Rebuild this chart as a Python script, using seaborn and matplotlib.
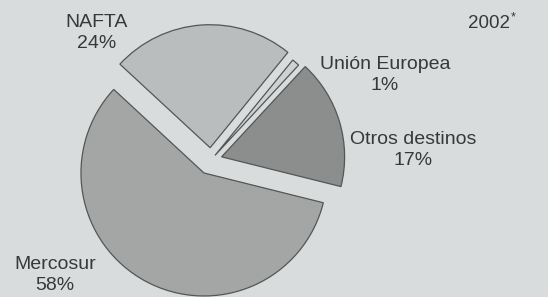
import numpy as np
import matplotlib
matplotlib.use("Agg")
import matplotlib.pyplot as plt
import seaborn as sns

# ---- data ----
categories = ["Mercosur", "NAFTA", "Unión Europea", "Otros destinos"]
values = [58, 24, 1, 17]
pct_labels = ["58%", "24%", "1%", "17%"]
year_label = "2002"

sns.set_theme(style="white")
plt.rcParams["font.family"] = ["Liberation Sans", "DejaVu Sans"]

W, H = 548, 297
bg = "#d9dcdc"
fig = plt.figure(figsize=(W / 100, H / 100), dpi=100, facecolor=bg)
ax = fig.add_axes([0, 0, 1, 1])
ax.set_facecolor(bg)

colors = ["#a4a6a6", "#babdbe", "#cfd2d2", "#8c8e8e"]
radius = 123
explode_frac = [0.12, 0.10, 0.05, 0.09]
explode = [e * radius for e in explode_frac]  # matplotlib explode is in data units

cx, cy = 211, H - 160
wedges, _ = ax.pie(values, colors=colors, explode=explode, startangle=-14,
                   counterclock=False, center=(cx, cy), radius=radius,
                   wedgeprops=dict(edgecolor="#555555", linewidth=0.9),
                   frame=True)
ax.set_xlim(0, W)
ax.set_ylim(0, H)
ax.set_aspect("equal")
ax.axis("off")

# label anchor points (pixels, y measured from top)
label_pos = [(55, 275), (97, 33), (385, 75), (413, 150)]
txt_color = "#383838"
for cat, pct, (x, y) in zip(categories, pct_labels, label_pos):
    ax.text(x, H - y, f"{cat}\n{pct}", ha="center", va="center",
            fontsize=14, color=txt_color, linespacing=1.3)

ax.text(510, H - 23, year_label, ha="right", va="center", fontsize=13.5,
        color=txt_color)
ax.text(511, H - 17, "*", ha="left", va="center", fontsize=9,
        color=txt_color)

fig.savefig("out.png", dpi=100, facecolor=bg)
